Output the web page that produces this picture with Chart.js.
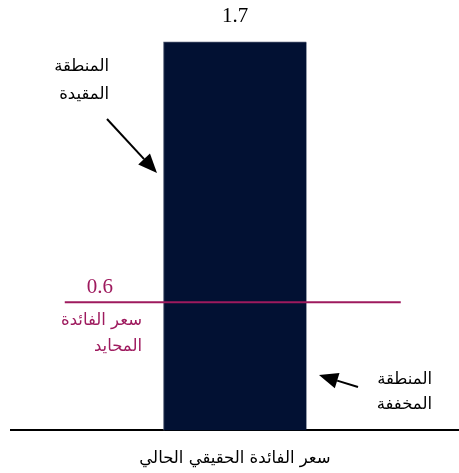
<!DOCTYPE html>
<html><head><meta charset="utf-8">
<script src="https://cdn.jsdelivr.net/npm/chart.js@4"></script>
<style>html,body{margin:0;padding:0;background:#fff}#w{width:459px;height:473px}</style>
</head><body><div id="w"><canvas id="c"></canvas></div>
<script>
const categories = ['سعر الفائدة الحقيقي الحالي'];
const currentRate = [1.7];
const neutralRate = [0.6, 0.6];
const neutralSpan = [0.12, 0.87];
const restrictiveLabel = ['المنطقة', 'المقيدة'];
const accommodativeLabel = ['المنطقة', 'المخففة'];
const neutralLabel = ['سعر الفائدة', 'المحايد'];

const NAVY = '#021133';
const MAG = '#9E1A5E';
const AR = '"DejaVu Sans", sans-serif';
const SERIF = '"Liberation Serif", serif';

function arrow(ctx, x1, y1, x2, y2) {
  const ang = Math.atan2(y2 - y1, x2 - x1);
  const hl = 19, hw = 8;
  const bx = x2 - hl * Math.cos(ang), by = y2 - hl * Math.sin(ang);
  ctx.save();
  ctx.strokeStyle = '#000'; ctx.fillStyle = '#000'; ctx.lineWidth = 2;
  ctx.beginPath(); ctx.moveTo(x1, y1); ctx.lineTo(bx, by); ctx.stroke();
  ctx.beginPath();
  ctx.moveTo(x2, y2);
  ctx.lineTo(bx + hw * Math.sin(ang), by - hw * Math.cos(ang));
  ctx.lineTo(bx - hw * Math.sin(ang), by + hw * Math.cos(ang));
  ctx.closePath(); ctx.fill();
  ctx.restore();
}

const notes = {
  id: 'notes',
  afterDatasetsDraw(chart) {
    const ctx = chart.ctx;
    const bar = chart.getDatasetMeta(1).data[0];
    const line = chart.getDatasetMeta(0).data;
    ctx.save();
    ctx.textAlign = 'center'; ctx.textBaseline = 'middle';
    ctx.fillStyle = '#000';
    ctx.font = '21px ' + SERIF;
    ctx.fillText(String(currentRate[0]), bar.x, bar.y - 25);
    ctx.fillStyle = MAG;
    ctx.fillText(String(neutralRate[0]), line[0].x + 35, line[0].y - 15);
    ctx.font = '16.5px ' + AR;
    ctx.textAlign = 'right';
    ctx.fillText(neutralLabel[0], 142, 321);
    ctx.fillText(neutralLabel[1], 142, 347);
    ctx.fillStyle = '#000';
    ctx.fillText(restrictiveLabel[0], 109, 67);
    ctx.fillText(restrictiveLabel[1], 109, 95);
    ctx.fillText(accommodativeLabel[0], 432, 380);
    ctx.fillText(accommodativeLabel[1], 432, 405);
    ctx.restore();
    arrow(ctx, 107, 119, 157, 173);
    arrow(ctx, 358, 387, 319, 375);
  }
};

new Chart(document.getElementById('c'), {
  data: {
    labels: categories,
    datasets: [
      {
        type: 'line', order: 0, xAxisID: 'xl',
        data: neutralSpan.map((x, i) => ({ x, y: neutralRate[i] })),
        borderColor: MAG, borderWidth: 2, pointRadius: 0, fill: false
      },
      {
        type: 'bar', order: 1, xAxisID: 'x',
        data: currentRate,
        backgroundColor: NAVY, borderColor: '#4c5670',
        borderWidth: { top: 1, left: 1, right: 0, bottom: 0 },
        grouped: false, barThickness: 143
      }
    ]
  },
  options: {
    responsive: true, maintainAspectRatio: false, animation: false,
    events: [],
    layout: { padding: { left: 11, right: 0, top: 23, bottom: 4 } },
    plugins: { legend: { display: false }, tooltip: { enabled: false } },
    scales: {
      x: {
        type: 'category',
        grid: { display: false, drawTicks: true, tickLength: 19 },
        border: { display: true, color: '#000', width: 2 },
        ticks: { color: '#000', font: { family: AR, size: 16.5 }, padding: 0 }
      },
      xl: { type: 'linear', display: false, min: 0, max: 1 },
      y: { display: false, min: 0.06, max: 1.78 }
    }
  },
  plugins: [notes]
});
</script></body></html>
